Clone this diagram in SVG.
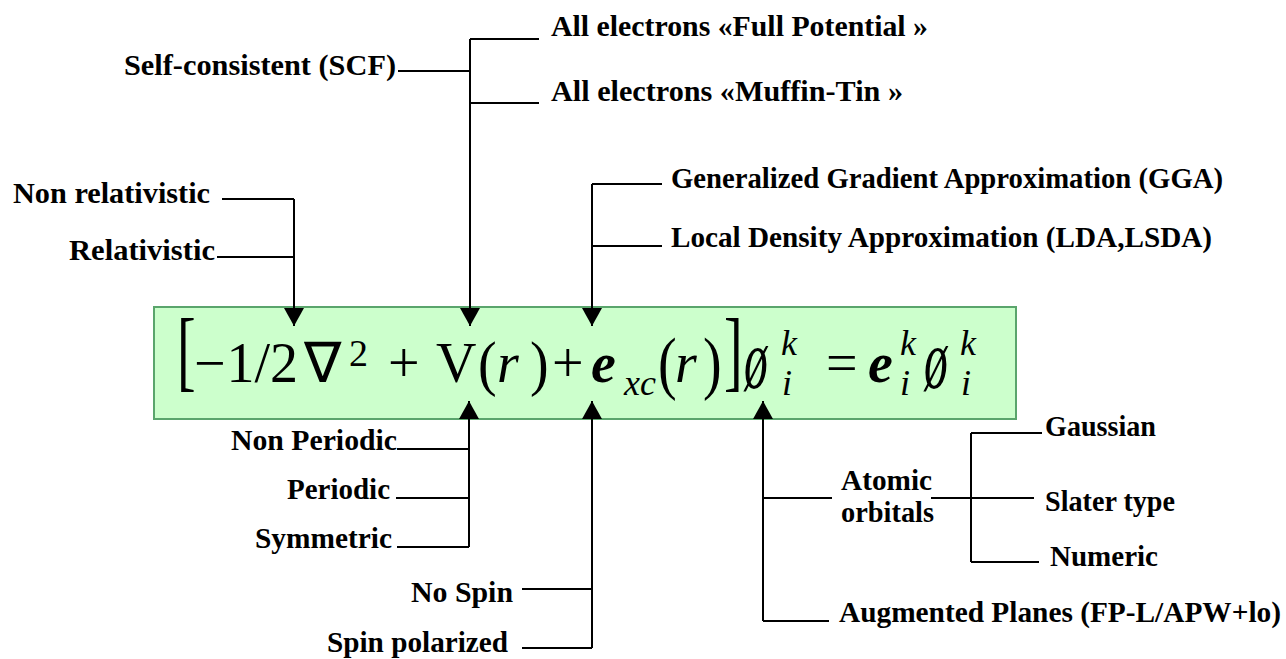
<svg xmlns="http://www.w3.org/2000/svg" width="1286" height="659" viewBox="0 0 1286 659">
<style>
.lbl{font-family:"Liberation Serif","Times New Roman",serif;font-weight:bold;font-size:29px;fill:#000}
.eq{font-family:"Liberation Serif","Times New Roman",serif;font-size:56px;fill:#000}
.it{font-style:italic}
.be{font-style:italic;font-weight:bold}
.sm{font-size:36px;font-style:italic}
.con{fill:none;stroke:#000;stroke-width:2}
</style>
<defs>
<marker id="arr" viewBox="0 0 18 20" refX="18" refY="10" markerWidth="18" markerHeight="20" markerUnits="userSpaceOnUse" orient="auto">
<path d="M0,0 L18,10 L0,20 z" fill="#000"/>
</marker>
</defs>
<rect width="1286" height="659" fill="#fff"/>

<g id="equation">
<rect x="154" y="307" width="862" height="112" fill="#ccffcc" stroke="#5aa56c" stroke-width="2"/>
<text class="eq" transform="translate(177,357.5) scale(1,1.6)" y="14">[</text>
<text class="eq" x="194" y="382">−</text>
<text class="eq" x="226.5" y="382">1/2</text>
<text class="eq" x="304" y="382">∇</text>
<text class="eq" x="349" y="366" style="font-size:38px">2</text>
<text class="eq" x="388" y="382">+</text>
<text class="eq" x="436" y="382">V</text>
<text class="eq" transform="translate(478,365) scale(1,1.1)" y="17">(</text>
<text class="eq it" x="497" y="382">r</text>
<text class="eq" transform="translate(530,365) scale(1,1.1)" y="17">)</text>
<text class="eq" x="552" y="382">+</text>
<text class="eq be" x="591" y="382">e</text>
<text class="eq sm" x="624" y="395">xc</text>
<text class="eq" transform="translate(658,365) scale(1,1.25)" y="17">(</text>
<text class="eq it" x="675" y="382">r</text>
<text class="eq" transform="translate(703,365) scale(1,1.25)" y="17">)</text>
<text class="eq" transform="translate(724,357.5) scale(1,1.6)" y="14">]</text>
<text class="eq it" transform="translate(744,388) scale(0.85,1.5)">ø</text>
<text class="eq sm" x="781" y="355">k</text>
<text class="eq sm" x="782" y="395">i</text>
<text class="eq" x="826" y="382">=</text>
<text class="eq be" x="868" y="382">e</text>
<text class="eq sm" x="900" y="355">k</text>
<text class="eq sm" x="900" y="395">i</text>
<text class="eq it" transform="translate(924,388) scale(0.85,1.5)">ø</text>
<text class="eq sm" x="960" y="355">k</text>
<text class="eq sm" x="961" y="395">i</text>
</g>

<g id="connectors">
<path class="con" d="M222,199 H294 M217,257 H294"/>
<path class="con" d="M294,199 V326" marker-end="url(#arr)"/>
<path class="con" d="M398,71 H470 M470,39 H539 M470,103 H539"/>
<path class="con" d="M470,39 V326" marker-end="url(#arr)"/>
<path class="con" d="M592,184 H662 M592,246 H662"/>
<path class="con" d="M592,184 V326" marker-end="url(#arr)"/>
<path class="con" d="M397,449 H469 M396,498 H469 M397,547 H469"/>
<path class="con" d="M469,547 V401" marker-end="url(#arr)"/>
<path class="con" d="M522,589 H592 M522,648 H592"/>
<path class="con" d="M592,648 V401" marker-end="url(#arr)"/>
<path class="con" d="M763,498 H832 M763,621 H829"/>
<path class="con" d="M763,621 V401" marker-end="url(#arr)"/>
<path class="con" d="M931,498 H1034 M971,433 V562 M971,433 H1042 M971,562 H1039"/>
</g>

<g id="n-fullpot"><text class="lbl" x="551" y="36" textLength="377" lengthAdjust="spacingAndGlyphs">All electrons «Full Potential »</text></g>
<g id="n-scf"><text class="lbl" x="124" y="75" textLength="272" lengthAdjust="spacingAndGlyphs">Self-consistent (SCF)</text></g>
<g id="n-muffin"><text class="lbl" x="551" y="101" textLength="352" lengthAdjust="spacingAndGlyphs">All electrons «Muffin-Tin »</text></g>
<g id="n-gga"><text class="lbl" x="671" y="188" textLength="552" lengthAdjust="spacingAndGlyphs">Generalized Gradient Approximation (GGA)</text></g>
<g id="n-lda"><text class="lbl" x="671" y="247" textLength="541" lengthAdjust="spacingAndGlyphs">Local Density Approximation (LDA,LSDA)</text></g>
<g id="n-nonrel"><text class="lbl" x="13" y="203" textLength="197" lengthAdjust="spacingAndGlyphs">Non relativistic</text></g>
<g id="n-rel"><text class="lbl" x="69" y="260" textLength="146" lengthAdjust="spacingAndGlyphs">Relativistic</text></g>
<g id="n-nonper"><text class="lbl" x="231" y="450" textLength="166" lengthAdjust="spacingAndGlyphs">Non Periodic</text></g>
<g id="n-per"><text class="lbl" x="287" y="499" textLength="103" lengthAdjust="spacingAndGlyphs">Periodic</text></g>
<g id="n-sym"><text class="lbl" x="255" y="548" textLength="137" lengthAdjust="spacingAndGlyphs">Symmetric</text></g>
<g id="n-nospin"><text class="lbl" x="411" y="602" textLength="102" lengthAdjust="spacingAndGlyphs">No Spin</text></g>
<g id="n-spinpol"><text class="lbl" x="327" y="652" textLength="181" lengthAdjust="spacingAndGlyphs">Spin polarized</text></g>
<g id="n-atomic"><text class="lbl" x="841" y="490" textLength="91" lengthAdjust="spacingAndGlyphs">Atomic</text><text class="lbl" x="841" y="522" textLength="93" lengthAdjust="spacingAndGlyphs">orbitals</text></g>
<g id="n-gauss"><text class="lbl" x="1045" y="436" textLength="111" lengthAdjust="spacingAndGlyphs">Gaussian</text></g>
<g id="n-slater"><text class="lbl" x="1045" y="511" textLength="130" lengthAdjust="spacingAndGlyphs">Slater type</text></g>
<g id="n-numeric"><text class="lbl" x="1050" y="566" textLength="108" lengthAdjust="spacingAndGlyphs">Numeric</text></g>
<g id="n-apw"><text class="lbl" x="839" y="622" textLength="442" lengthAdjust="spacingAndGlyphs">Augmented Planes (FP-L/APW+lo)</text></g>
</svg>
